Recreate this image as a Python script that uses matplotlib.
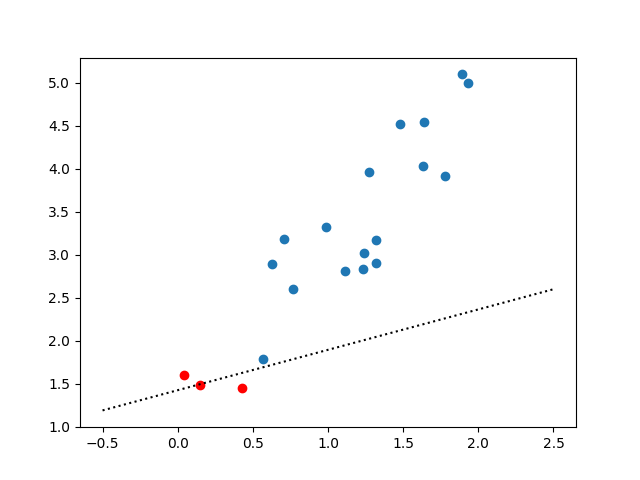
import numpy as np
import matplotlib
matplotlib.use('Agg')
import matplotlib.pyplot as plt

# blue points
x_blue = [1.89, 1.93, 1.48, 1.64, 1.63, 1.78, 1.27, 0.99, 0.71, 1.32,
          1.24, 1.32, 0.63, 1.23, 1.11, 0.77, 0.57]
y_blue = [5.10, 5.00, 4.52, 4.55, 4.03, 3.92, 3.96, 3.33, 3.18, 3.17,
          3.02, 2.91, 2.89, 2.84, 2.81, 2.60, 1.79]

# red points
x_red = [0.04, 0.15, 0.43]
y_red = [1.60, 1.48, 1.45]

# dotted line endpoints
x_line = [-0.5, 2.5]
y_line = [1.19, 2.60]

fig, ax = plt.subplots(figsize=(6.4, 4.8), dpi=100)
ax.scatter(x_blue, y_blue)
ax.scatter(x_red, y_red, color='red')
ax.plot(x_line, y_line, 'k:')
fig.savefig('out.png')
